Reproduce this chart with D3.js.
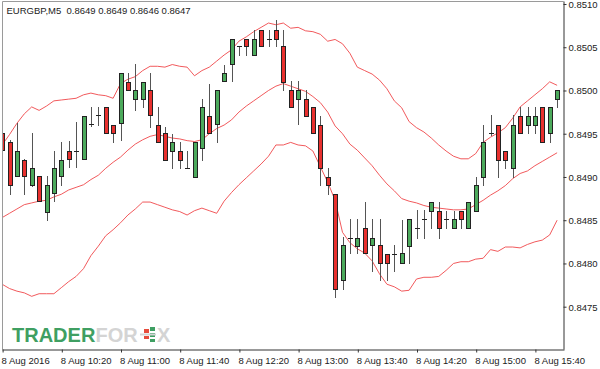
<!DOCTYPE html>
<html><head><meta charset="utf-8">
<script src="https://cdnjs.cloudflare.com/ajax/libs/d3/7.8.5/d3.min.js"></script>
<style>html,body{margin:0;padding:0;background:#fff;}svg{display:block;}</style>
</head><body>
<svg id="chart" width="600" height="369"></svg>
<script>
const title = "EURGBP,M5  0.8649 0.8649 0.8646 0.8647";
const times = ["09:40","09:45","09:50","09:55","10:00","10:05","10:10","10:15","10:20","10:25","10:30","10:35","10:40","10:45","10:50","10:55",
"11:00","11:05","11:10","11:15","11:20","11:25","11:30","11:35","11:40","11:45","11:50","11:55","12:00","12:05","12:10","12:15",
"12:20","12:25","12:30","12:35","12:40","12:45","12:50","12:55","13:00","13:05","13:10","13:15","13:20","13:25","13:30","13:35",
"13:40","13:45","13:50","13:55","14:00","14:05","14:10","14:15","14:20","14:25","14:30","14:35","14:40","14:45","14:50","14:55",
"15:00","15:05","15:10","15:15","15:20","15:25","15:30","15:35","15:40","15:45","15:50","15:55"];
const open  = [.84951,.84941,.84901,.84920,.84891,.84901,.84860,.84881,.84901,.84930,.84930,.84921,.84961,.84972,.84981,.84960,
.84962,.85010,.84990,.84990,.85001,.84960,.84951,.84930,.84930,.84910,.84900,.84934,.84971,.84961,.85011,.85031,
.85051,.85060,.85041,.85070,.85060,.85070,.85051,.85001,.84990,.84990,.84981,.84960,.84900,.84880,.84781,.84830,
.84820,.84841,.84821,.84821,.84811,.84811,.84800,.84820,.84841,.84851,.84861,.84861,.84851,.84841,.84861,.84841,
.84861,.84900,.84951,.84960,.84930,.84910,.84971,.84960,.84960,.84981,.84951,.84990];
const high  = [.84981,.84943,.84962,.84921,.84951,.84901,.84901,.84930,.84941,.84942,.84964,.84971,.84981,.84981,.84981,.84960,
.85020,.85020,.85031,.85010,.85020,.84981,.84958,.84950,.84941,.84930,.84941,.84990,.85008,.85001,.85030,.85060,
.85051,.85060,.85070,.85070,.85070,.85081,.85070,.85011,.85011,.85001,.84981,.84971,.84910,.84880,.84831,.84851,
.84851,.84871,.84851,.84851,.84811,.84821,.84850,.84851,.84862,.84862,.84871,.84871,.84861,.84861,.84861,.84871,
.84900,.84960,.84972,.84960,.84930,.84972,.84981,.84981,.84981,.84981,.84981,.85001];
const low   = [.84929,.84880,.84901,.84880,.84890,.84872,.84850,.84872,.84891,.84911,.84911,.84921,.84959,.84960,.84951,.84941,
.84943,.85001,.84978,.84981,.84958,.84941,.84920,.84910,.84910,.84910,.84900,.84920,.84951,.84941,.85011,.85011,
.85041,.85041,.85041,.85051,.85051,.85051,.85001,.84981,.84961,.84971,.84951,.84891,.84880,.84761,.84770,.84812,
.84812,.84812,.84791,.84781,.84781,.84791,.84800,.84800,.84830,.84830,.84841,.84830,.84841,.84841,.84841,.84841,
.84861,.84891,.84948,.84900,.84910,.84900,.84951,.84951,.84951,.84941,.84941,.84981];
const close = [.84931,.84891,.84930,.84901,.84910,.84872,.84891,.84910,.84920,.84921,.84930,.84971,.84961,.84972,.84951,.84951,
.85020,.85001,.85001,.85010,.84972,.84941,.84920,.84941,.84920,.84910,.84941,.84981,.84951,.85001,.85020,.85060,
.85051,.85051,.85060,.85051,.85060,.85060,.85010,.84981,.85001,.84971,.84951,.84910,.84891,.84770,.84821,.84830,
.84830,.84812,.84830,.84800,.84800,.84811,.84812,.84851,.84841,.84851,.84871,.84841,.84851,.84851,.84851,.84871,
.84891,.84941,.84951,.84920,.84920,.84960,.84951,.84971,.84971,.84941,.84981,.85001];
const bbUpper = [.84937,.84949,.84962,.84973,.84981,.84977,.84982,.84988,.84989,.84990,.84991,.84995,.84997,.84995,.84994,.84991,
.85008,.85013,.85016,.85023,.85028,.85028,.85027,.85030,.85028,.85027,.85017,.85023,.85027,.85034,.85041,.85047,
.85057,.85062,.85068,.85073,.85078,.85076,.85078,.85072,.85073,.85069,.85068,.85065,.85057,.85059,.85054,.85043,
.85027,.85023,.85019,.85012,.85002,.84988,.84980,.84964,.84957,.84952,.84945,.84937,.84930,.84924,.84921,.84921,
.84927,.84940,.84946,.84951,.84957,.84968,.84981,.84988,.84995,.85002,.85010,.85006];
const bbMiddle = [.84853,.84858,.84863,.84868,.84870,.84872,.84873,.84877,.84880,.84885,.84888,.84891,.84897,.84902,.84910,.84917,
.84923,.84931,.84938,.84943,.84947,.84949,.84947,.84945,.84944,.84942,.84941,.84943,.84950,.84956,.84960,.84966,
.84975,.84982,.84988,.84994,.85000,.85005,.85008,.85005,.85002,.84999,.84993,.84986,.84975,.84959,.84950,.84938,
.84931,.84922,.84913,.84902,.84892,.84884,.84875,.84872,.84870,.84867,.84865,.84864,.84863,.84862,.84862,.84863,
.84868,.84873,.84879,.84884,.84890,.84898,.84904,.84907,.84913,.84918,.84923,.84928];
const bbLower = [.84776,.84771,.84768,.84766,.84762,.84765,.84765,.84765,.84772,.84779,.84785,.84794,.84809,.84820,.84832,.84839,
.84847,.84856,.84863,.84871,.84871,.84868,.84865,.84862,.84860,.84856,.84861,.84864,.84861,.84858,.84872,.84882,
.84891,.84899,.84907,.84915,.84924,.84937,.84937,.84940,.84937,.84936,.84930,.84912,.84894,.84873,.84836,.84824,
.84817,.84812,.84803,.84788,.84776,.84773,.84768,.84769,.84782,.84784,.84784,.84785,.84792,.84800,.84802,.84802,
.84805,.84806,.84816,.84814,.84819,.84819,.84818,.84822,.84825,.84827,.84833,.84850];
const yTicks = [0.8475,0.8480,0.8485,0.8490,0.8495,0.8500,0.8505,0.8510];
const xTickTimes = ["09:40","10:20","11:00","11:40","12:20","13:00","13:40","14:20","15:00","15:40"];
const xTickLabels = ["8 Aug 2016","8 Aug 10:20","8 Aug 11:00","8 Aug 11:40","8 Aug 12:20","8 Aug 13:00","8 Aug 13:40","8 Aug 14:20","8 Aug 15:00","8 Aug 15:40"];

const bars = times.map((t,i)=>({t, o:open[i], h:high[i], l:low[i], c:close[i]}));
const svg = d3.select("#chart");
const L = 2.5, R = 563.5, T = 1.5, B = 349.5;
const x = d3.scalePoint().domain(times).range([2.1, 557.1]);
const y = d3.scaleLinear().domain([0.8475, 0.8510]).range([306.7, 4]);
const font = "'Liberation Sans', Arial, sans-serif";

svg.append("defs").append("clipPath").attr("id","plot")
  .append("rect").attr("x",L).attr("y",T).attr("width",R-L).attr("height",B-T);

// watermark
const wm = svg.append("g");
wm.append("text").attr("x",12).attr("y",342).attr("font-family",font).attr("font-weight","bold")
  .attr("font-size",20).attr("fill","#3f9f62").text("TRADER");
wm.append("text").attr("x",95.5).attr("y",342).attr("font-family",font).attr("font-weight","bold")
  .attr("font-size",20).attr("fill","#d4d4d4").text("FOR");
wm.append("text").attr("x",157).attr("y",342).attr("font-family",font).attr("font-weight","bold")
  .attr("font-size",20).attr("fill","#d4d4d4").text("X");
// small candle icon in place of the E
const icon = [{x:144,y:329,w:5,h:4,c:"#e74c3c"},{x:144,y:336,w:5,h:3,c:"#e74c3c"},{x:150,y:327,w:5,h:4,c:"#3f9f62"},{x:150,y:333,w:5,h:4,c:"#3f9f62"},{x:150,y:339,w:5,h:3,c:"#3f9f62"}];
wm.selectAll("rect").data(icon).join("rect").attr("x",d=>d.x).attr("y",d=>d.y)
  .attr("width",d=>d.w).attr("height",d=>d.h).attr("fill",d=>d.c);
wm.append("line").attr("x1",140).attr("x2",156).attr("y1",334.5).attr("y2",334.5).attr("stroke","#d4d4d4").attr("stroke-width",2);

const plot = svg.append("g").attr("clip-path","url(#plot)");

// bands
const line = arr => d3.line().x((d,i)=>x(times[i])).y(d=>y(d))(arr);
[bbUpper,bbMiddle,bbLower].forEach(arr=>{
  plot.append("path").attr("d",line(arr)).attr("fill","none")
    .attr("stroke","#f0474a").attr("stroke-width",1).attr("stroke-opacity",0.9);
});

// candles
const cg = plot.selectAll("g.c").data(bars).join("g").attr("class","c");
const cx = d => Math.round(x(d.t));
cg.append("line").attr("x1",d=>cx(d)+0.5).attr("x2",d=>cx(d)+0.5)
  .attr("y1",d=>Math.round(y(d.h))).attr("y2",d=>Math.round(y(d.l))+1)
  .attr("stroke","#555").attr("stroke-width",1);
cg.filter(d=>d.o!==d.c).append("rect")
  .attr("x",d=>cx(d)-1.5).attr("width",4)
  .attr("y",d=>Math.round(y(Math.max(d.o,d.c)))+0.5)
  .attr("height",d=>Math.max(1,Math.round(y(Math.min(d.o,d.c)))-Math.round(y(Math.max(d.o,d.c)))))
  .attr("fill",d=>d.c>d.o?"#4caa5c":"#e8302e")
  .attr("stroke","#222").attr("stroke-width",1);
cg.filter(d=>d.o===d.c).append("line")
  .attr("x1",d=>cx(d)-2).attr("x2",d=>cx(d)+3)
  .attr("y1",d=>Math.round(y(d.o))+0.5).attr("y2",d=>Math.round(y(d.o))+0.5)
  .attr("stroke","#222").attr("stroke-width",1);

// frame
svg.append("line").attr("x1",L).attr("x2",L).attr("y1",T).attr("y2",B).attr("stroke","#9a9a9a");
svg.append("line").attr("x1",L).attr("x2",R).attr("y1",T).attr("y2",T).attr("stroke","#9a9a9a");

// right axis
const ya = svg.append("g").attr("transform",`translate(${R},0)`)
  .call(d3.axisRight(y).tickValues(yTicks).tickFormat(d3.format(".4f")).tickSize(3).tickPadding(2));
ya.select(".domain").attr("d",`M0.5,${T}V${B}`).attr("stroke","#333");
ya.selectAll(".tick line").attr("stroke","#333");
ya.selectAll("text").attr("font-family",font).attr("font-size",9.5).attr("fill","#222").attr("dy","0.35em");

// bottom axis
const xa = svg.append("g").attr("transform",`translate(0,${B})`)
  .call(d3.axisBottom(x).tickValues(xTickTimes).tickFormat((d,i)=>xTickLabels[i]).tickSize(3).tickPadding(5));
xa.select(".domain").attr("d",`M${L},0.5H${R+1}`).attr("stroke","#333");
xa.selectAll(".tick line").attr("stroke","#333").attr("transform","translate(0.5,0)");
xa.selectAll("text").attr("font-family",font).attr("font-size",9.5).attr("fill","#222")
  .attr("text-anchor","start").attr("dx",-1);

svg.append("text").attr("x",6.5).attr("y",13.5).attr("font-family",font).attr("font-size",9.5)
  .attr("fill","#222").attr("xml:space","preserve").text(title);
</script>
</body></html>
